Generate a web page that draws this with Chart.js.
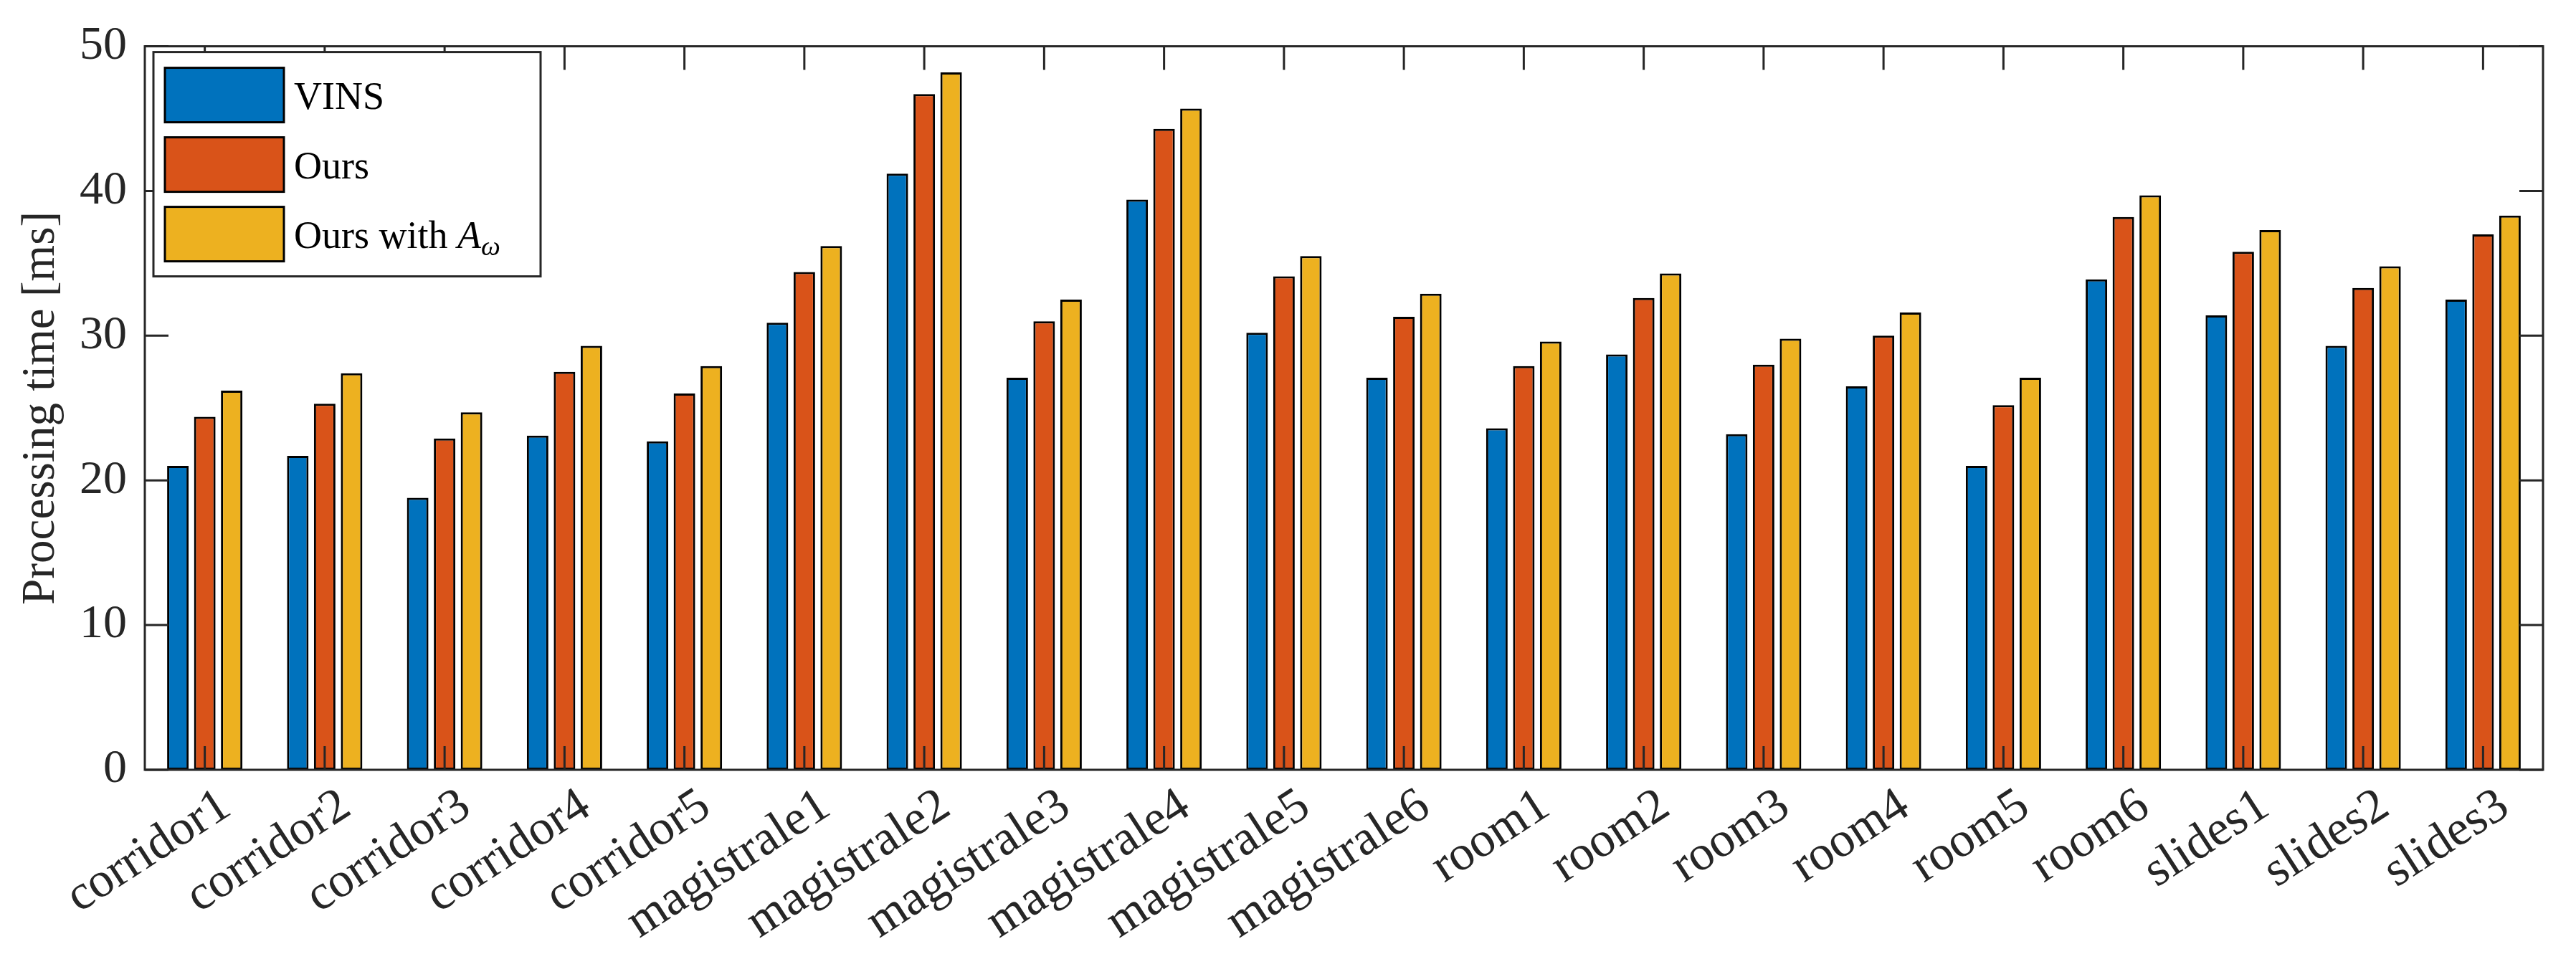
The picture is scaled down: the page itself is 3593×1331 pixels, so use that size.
<!DOCTYPE html>
<html lang="en">
<head>
<meta charset="UTF-8">
<title>Processing time</title>
<script src="https://cdn.jsdelivr.net/npm/chart.js"></script>
<style>
  html, body { margin: 0; padding: 0; background: #fff; }
  #wrap { width: 3593px; height: 1331px; }
</style>
</head>
<body>
<div id="wrap"><canvas id="myChart"></canvas></div>
<script>
// values (ms)
const sequences = ['corridor1', 'corridor2', 'corridor3', 'corridor4', 'corridor5',
  'magistrale1', 'magistrale2', 'magistrale3', 'magistrale4', 'magistrale5', 'magistrale6',
  'room1', 'room2', 'room3', 'room4', 'room5', 'room6',
  'slides1', 'slides2', 'slides3'];
const vinsTimes   = [21.0, 21.7, 18.8, 23.1, 22.7, 30.9, 41.2, 27.1, 39.4, 30.2, 27.1, 23.6, 28.7, 23.2, 26.5, 21.0, 33.9, 31.4, 29.3, 32.5];
const oursTimes   = [24.4, 25.3, 22.9, 27.5, 26.0, 34.4, 46.7, 31.0, 44.3, 34.1, 31.3, 27.9, 32.6, 28.0, 30.0, 25.2, 38.2, 35.8, 33.3, 37.0];
const oursAwTimes = [26.2, 27.4, 24.7, 29.3, 27.9, 36.2, 48.2, 32.5, 45.7, 35.5, 32.9, 29.6, 34.3, 29.8, 31.6, 27.1, 39.7, 37.3, 34.8, 38.3];
const yTicks = [0, 10, 20, 30, 40, 50];
const seriesNames = ['VINS', 'Ours', 'Ours with A_ω'];
const seriesColors = ['#0072BD', '#D95319', '#EDB120'];

const axisColor = '#262626';
const serif = '"Liberation Serif", "Times New Roman", serif';
const TICK_LEN = 33;

// MATLAB style box with inward ticks, drawn over the bars
const boxPlugin = {
  id: 'matlabBox',
  afterDatasetsDraw(chart) {
    const { ctx, chartArea: a, scales: { x, y } } = chart;
    ctx.save();
    ctx.strokeStyle = axisColor;
    ctx.lineWidth = 3;
    ctx.beginPath();
    x.ticks.forEach((t, i) => {
      const px = x.getPixelForTick(i);
      ctx.moveTo(px, a.bottom); ctx.lineTo(px, a.bottom - TICK_LEN);
      ctx.moveTo(px, a.top); ctx.lineTo(px, a.top + TICK_LEN);
    });
    y.ticks.forEach((t, i) => {
      const py = y.getPixelForTick(i);
      ctx.moveTo(a.left, py); ctx.lineTo(a.left + TICK_LEN, py);
      ctx.moveTo(a.right, py); ctx.lineTo(a.right - TICK_LEN, py);
    });
    ctx.stroke();
    ctx.strokeRect(a.left, a.top, a.right - a.left, a.bottom - a.top);
    ctx.restore();
  }
};

// boxed legend in the upper left corner, with an italic A and subscript omega
const legendPlugin = {
  id: 'boxLegend',
  afterDraw(chart) {
    const { ctx, chartArea: a } = chart;
    const x0 = a.left + 12, y0 = a.top + 8, w = 540, h = 313;
    ctx.save();
    ctx.fillStyle = '#fff';
    ctx.fillRect(x0, y0, w, h);
    ctx.strokeStyle = axisColor;
    ctx.lineWidth = 3;
    ctx.strokeRect(x0, y0, w, h);
    chart.data.datasets.forEach((ds, i) => {
      const sy = y0 + 22 + i * 97;
      ctx.fillStyle = ds.backgroundColor;
      ctx.fillRect(x0 + 16, sy, 166, 76);
      ctx.strokeStyle = '#000';
      ctx.strokeRect(x0 + 16, sy, 166, 76);

      ctx.fillStyle = '#000';
      ctx.textBaseline = 'alphabetic';
      let tx = x0 + 196;
      const base = sy + 38 + 19;
      const parts = ds.label.split('_');
      let main = parts[0];
      let italic = '';
      if (parts.length > 1) {
        italic = main.slice(-1);
        main = main.slice(0, -1);
      }
      ctx.font = '54px ' + serif;
      ctx.fillText(main, tx, base);
      tx += ctx.measureText(main).width;
      if (italic) {
        ctx.font = 'italic 54px ' + serif;
        ctx.fillText(italic, tx, base);
        tx += ctx.measureText(italic).width;
        ctx.font = 'italic 38px ' + serif;
        ctx.fillText(parts[1], tx, base + 10);
      }
    });
    ctx.restore();
  }
};

const ctx = document.getElementById('myChart').getContext('2d');
const seriesData = [vinsTimes, oursTimes, oursAwTimes];

new Chart(ctx, {
  type: 'bar',
  data: {
    labels: sequences,
    datasets: seriesData.map((d, i) => ({
      label: seriesNames[i],
      data: d,
      backgroundColor: seriesColors[i],
      borderColor: '#000',
      borderWidth: 3,
      borderSkipped: false,
      categoryPercentage: 0.673,
      barPercentage: 0.8
    }))
  },
  options: {
    responsive: true,
    maintainAspectRatio: false,
    animation: false,
    devicePixelRatio: 1,
    layout: { padding: { left: 0, right: 46, top: 37, bottom: 0 } },
    plugins: {
      legend: { display: false },
      tooltip: { enabled: false }
    },
    scales: {
      x: {
        grid: { display: false, drawTicks: false },
        border: { display: false },
        ticks: {
          autoSkip: false,
          maxRotation: 33,
          minRotation: 33,
          padding: 10,
          labelOffset: 30,
          color: axisColor,
          font: { family: serif, size: 69 }
        },
        afterFit(s) { s.height = 257; }
      },
      y: {
        min: 0,
        max: 50,
        afterBuildTicks(s) { s.ticks = yTicks.map(v => ({ value: v })); },
        grid: { display: false, drawTicks: false },
        border: { display: false },
        ticks: {
          padding: 25,
          color: axisColor,
          font: { family: serif, size: 66 }
        },
        title: {
          display: true,
          text: 'Processing time [ms]',
          color: axisColor,
          font: { family: serif, size: 65 },
          padding: { top: 19, bottom: 0 }
        },
        afterFit(s) { s.width = 202; }
      }
    }
  },
  plugins: [boxPlugin, legendPlugin]
});
</script>
</body>
</html>
